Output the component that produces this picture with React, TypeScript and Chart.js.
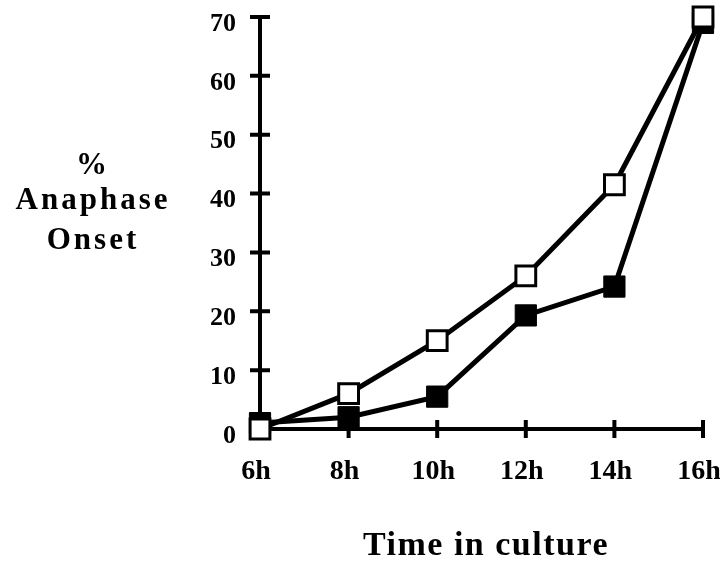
import React, { useEffect, useRef } from "react";
import { Chart, registerables } from "chart.js";

Chart.register(...registerables);

const categories = ["6h", "8h", "10h", "12h", "14h", "16h"];
const openSeries = [0, 6, 15, 26, 41.5, 70];
const filledSeries = [1, 2, 5.5, 19.3, 24.2, 69];
const yTicks = [0, 10, 20, 30, 40, 50, 60, 70];
const yTitleLines = ["%", "Anaphase", "Onset"];
const xTitle = "Time in culture";

const FONT = "'Liberation Serif', 'Times New Roman', serif";

const axesPlugin = {
  id: "customAxes",
  beforeDatasetsDraw(chart: any) {
    const ctx = chart.ctx;
    const xs = chart.scales.x;
    const ys = chart.scales.y;
    const x0 = xs.getPixelForValue(0);
    const x1 = xs.getPixelForValue(categories.length - 1);
    const y0 = ys.getPixelForValue(0);
    const yTop = ys.getPixelForValue(70);
    ctx.save();
    ctx.strokeStyle = "#000";
    ctx.lineWidth = 4;
    ctx.lineCap = "butt";
    ctx.beginPath();
    ctx.moveTo(x0, yTop - 2);
    ctx.lineTo(x0, y0 + 2);
    ctx.moveTo(x0 - 10, y0);
    ctx.lineTo(x1 + 2, y0);
    yTicks.forEach((v) => {
      if (v === 0) return;
      const y = ys.getPixelForValue(v);
      ctx.moveTo(x0 - 10, y);
      ctx.lineTo(x0 + 10, y);
    });
    categories.forEach((_, i) => {
      if (i === 0) return;
      const x = xs.getPixelForValue(i);
      ctx.moveTo(x, y0 - 9);
      ctx.lineTo(x, y0 + 9);
    });
    ctx.stroke();
    ctx.restore();
  },
  afterDraw(chart: any) {
    const ctx = chart.ctx;
    ctx.save();
    ctx.fillStyle = "#000";
    ctx.textAlign = "center";
    ctx.textBaseline = "alphabetic";
    ctx.font = `bold 31px ${FONT}`;
    (ctx as any).letterSpacing = "3px";
    const baselines = [174, 209, 249];
    yTitleLines.forEach((t, i) => {
      ctx.fillText(t, 93, baselines[i]);
    });
    ctx.font = `bold 34px ${FONT}`;
    (ctx as any).letterSpacing = "1.5px";
    ctx.fillText(xTitle, 486, 555);
    ctx.restore();
  },
};

export default function App() {
  const ref = useRef<HTMLCanvasElement>(null);
  useEffect(() => {
    if (!ref.current) return;
    const chart = new Chart(ref.current, {
      type: "line",
      data: {
        labels: categories,
        datasets: [
          {
            label: "open",
            data: openSeries,
            borderColor: "#000",
            borderWidth: 5,
            backgroundColor: "#fff",
            pointStyle: "rect",
            pointRadius: 14,
            pointBorderWidth: 3,
            pointBorderColor: "#000",
            pointBackgroundColor: "#fff",
            tension: 0,
          },
          {
            label: "filled",
            data: filledSeries,
            borderColor: "#000",
            borderWidth: 5,
            backgroundColor: "#000",
            pointStyle: "rect",
            pointRadius: 15,
            pointBorderWidth: 1,
            pointBorderColor: "#000",
            pointBackgroundColor: "#000",
            tension: 0,
          },
        ],
      },
      options: {
        animation: false,
        responsive: false,
        devicePixelRatio: 1,
        clip: false as any,
        layout: { padding: { left: 0, right: 17, top: 7, bottom: 0 } },
        plugins: { legend: { display: false }, tooltip: { enabled: false } },
        scales: {
          x: {
            type: "category",
            offset: false,
            border: { display: false },
            grid: { display: false, drawTicks: false },
            ticks: {
              color: "#000",
              padding: 26,
              labelOffset: -4,
              maxRotation: 0,
              autoSkip: false,
              font: { family: FONT, size: 28, weight: "bold" },
            },
            afterFit: (s: any) => {
              s.height = 132;
              s.paddingLeft = 0;
              s.paddingRight = 0;
              s.paddingTop = 0;
              s.paddingBottom = 0;
            },
          },
          y: {
            min: 0,
            max: 70,
            border: { display: false },
            grid: { display: false, drawTicks: false },
            ticks: {
              stepSize: 10,
              color: "#000",
              padding: 24,
              labelOffset: 7,
              font: { family: FONT, size: 26, weight: "bold" },
            },
            afterFit: (s: any) => {
              s.width = 260;
              s.paddingLeft = 0;
              s.paddingRight = 0;
              s.paddingTop = 0;
              s.paddingBottom = 0;
            },
          },
        },
      },
      plugins: [axesPlugin],
    });
    return () => chart.destroy();
  }, []);
  return (
    <div style={{ position: "absolute", left: 0, top: 0, width: 720, height: 561, background: "#fff" }}>
      <canvas ref={ref} width={720} height={561} />
    </div>
  );
}
